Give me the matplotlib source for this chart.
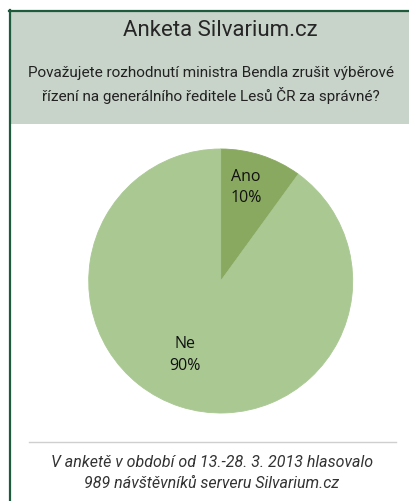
import matplotlib
matplotlib.use("Agg")
import matplotlib.pyplot as plt
from matplotlib.patches import Rectangle
from matplotlib.lines import Line2D

# data
labels = ["Ano", "Ne"]
shares = [10, 90]
colors = ["#89a860", "#a9c892"]

title = "Anketa Silvarium.cz"
question = "Považujete rozhodnutí ministra Bendla zrušit výběrové\nřízení na generálního ředitele Lesů ČR za správné?"
footer = "V anketě v období od 13.-28. 3. 2013 hlasovalo\n989 návštěvníků serveru Silvarium.cz"

W, H = 409, 501
fig = plt.figure(figsize=(W / 100, H / 100), dpi=100)
fig.patch.set_facecolor("white")

narrow = ["Roboto", "DejaVu Sans"]

# header box + frame
fig.patches.append(Rectangle((10 / W, 1 - 124 / H), 1 - 10 / W, 113 / H,
                             transform=fig.transFigure, facecolor="#c8d3c9",
                             edgecolor="none", zorder=0))
fig.lines.append(Line2D([9 / W, 1], [1 - 10.5 / H, 1 - 10.5 / H], transform=fig.transFigure,
                        color="#1e5a3c", lw=1.6))
fig.lines.append(Line2D([9.5 / W, 9.5 / W], [0, 1 - 10 / H], transform=fig.transFigure,
                        color="#1e5a3c", lw=1.6))
fig.lines.append(Line2D([29 / W, 396 / W], [1 - 442 / H, 1 - 442 / H], transform=fig.transFigure,
                        color="#cfcfcf", lw=1.0))

fig.text(220 / W, 1 - 30 / H, title, ha="center", va="center", fontsize=16,
         family=narrow, color="#262626")
fig.text(211 / W, 1 - 85 / H, question, ha="center", va="center", fontsize=11,
         family=narrow, color="#222222", linespacing=1.45)
fig.text(212 / W, 1 - 473 / H, footer, ha="center", va="center", fontsize=11.5,
         family=narrow, style="italic", color="#333333", linespacing=1.45)

# pie
ax = fig.add_axes([88.7 / W, (H - 413) / H, 264 / W, 264 / H])
wedges, _ = ax.pie(shares, colors=colors, startangle=90, counterclock=False)
for w, c in zip(wedges, colors):
    w.set_edgecolor(c)
    w.set_linewidth(0.6)
ax.set_xlim(-1, 1)
ax.set_ylim(-1, 1)
ax.set_aspect("equal")
ax.axis("off")

label_pos = [(0.19, 0.71), (-0.27, -0.56)]
for lab, val, (x, y) in zip(labels, shares, label_pos):
    ax.text(x, y, f"{lab}\n{val}%", ha="center", va="center", fontsize=11.5,
            family=["Open Sans", "DejaVu Sans"], color="#111111", linespacing=1.45)

fig.savefig("out.png", dpi=100)
